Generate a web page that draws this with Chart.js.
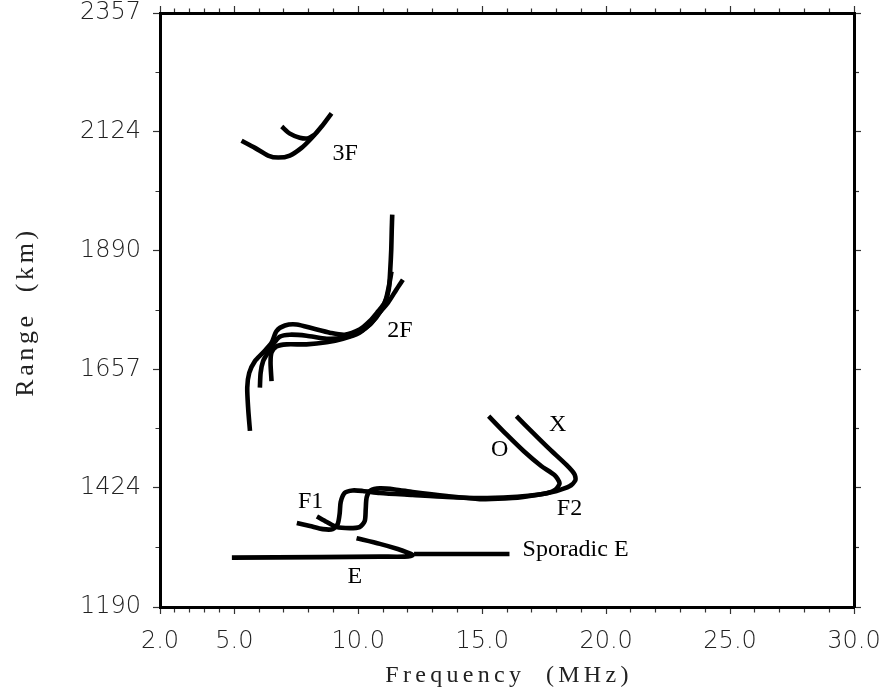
<!DOCTYPE html>
<html>
<head>
<meta charset="utf-8">
<script src="https://cdn.jsdelivr.net/npm/chart.js@4.4.1/dist/chart.umd.min.js"></script>
<style>
  html, body { margin: 0; padding: 0; background: #fff; }
  #wrap { width: 884px; height: 693px; }
</style>
</head>
<body>
<div id="wrap"><canvas id="ionogram"></canvas></div>
<script>
// --- axes ---
const freqTicks = [2, 5, 10, 15, 20, 25, 30];
const freqMinorTicks = [2.6, 3.2, 3.8, 4.4, 6, 7, 8, 9, 11, 12, 13, 14, 16, 17, 18, 19,
                        21, 22, 23, 24, 26, 27, 28, 29];
const rangeTicks = [1190, 1424, 1657, 1890, 2124, 2357];
const rangeMinorTicks = [1307, 1540.5, 1773.5, 2007, 2240.5];
const xTitle = 'Frequency  (MHz)';
const yTitle = 'Range  (km)';

// --- traces (frequency MHz / range km) ---
const eFreq  = [9.93, 10.87, 11.59, 11.99, 12.19, 11.87, 10.87, 8.45, 4.90];
const eRange = [1325, 1314, 1304, 1297, 1292, 1289, 1289, 1288, 1287];

const esFreq  = [12.25, 16.10];
const esRange = [1294, 1294];

const oFreq  = [7.52, 8.05, 8.57, 8.97, 9.17, 9.25, 9.29, 9.45, 9.77, 10.18, 10.87, 12.19,
                13.57, 14.90, 16.22, 17.12, 17.64, 17.96, 18.12, 17.92, 17.38, 16.68, 15.98, 15.26];
const oRange = [1355, 1349, 1343, 1343, 1353, 1374, 1396, 1414, 1419, 1418, 1414, 1410,
                1406, 1404, 1406, 1410, 1414, 1421, 1433, 1449, 1467, 1496, 1529, 1565];

const xFreq  = [8.33, 8.73, 9.13, 9.65, 10.05, 10.26, 10.30, 10.34, 10.50, 10.87, 11.47, 12.19,
                13.57, 14.90, 16.22, 17.20, 18.00, 18.52, 18.76, 18.72, 18.40, 17.72, 17.03, 16.38];
const xRange = [1368, 1357, 1347, 1345, 1347, 1359, 1382, 1406, 1419, 1423, 1421, 1416,
                1408, 1402, 1404, 1410, 1418, 1427, 1439, 1451, 1469, 1500, 1533, 1565];

const f2aFreq  = [5.63, 5.56, 5.52, 5.60, 5.83, 6.16, 6.50, 6.70, 7.04, 7.51, 8.18, 8.85,
                  9.45, 10.05, 10.47, 10.80, 11.07, 11.23, 11.29, 11.33, 11.35, 11.37];
const f2aRange = [1536, 1578, 1621, 1650, 1673, 1690, 1709, 1732, 1743, 1745, 1737, 1729,
                  1725, 1735, 1752, 1771, 1788, 1814, 1853, 1892, 1931, 1961];

const f2bFreq  = [6.03, 6.06, 6.16, 6.36, 6.56, 6.83, 7.24, 7.91, 8.72, 9.38, 9.92, 10.47,
                  10.80, 11.20, 11.54, 11.80];
const f2bRange = [1621, 1650, 1673, 1690, 1706, 1721, 1725, 1723, 1717, 1719, 1727, 1745,
                  1765, 1788, 1814, 1833];

const f2cFreq  = [6.50, 6.46, 6.50, 6.70, 7.11, 7.91, 8.72, 9.38, 10.05, 10.55, 10.91, 11.11,
                  11.25, 11.34];
const f2cRange = [1634, 1670, 1690, 1702, 1706, 1706, 1710, 1717, 1729, 1749, 1772, 1794,
                  1824, 1849];

const f3aFreq  = [5.29, 5.83, 6.36, 6.77, 7.24, 7.71, 8.11, 8.52, 8.92];
const f3aRange = [2106, 2092, 2077, 2073, 2077, 2092, 2111, 2134, 2160];

const f3bFreq  = [6.91, 7.24, 7.64, 7.99, 8.24];
const f3bRange = [2134, 2120, 2112, 2111, 2118];

// --- trace labels ---
const labelText  = ['3F', '2F', 'O', 'X', 'F1', 'F2', 'Sporadic E', 'E'];
const labelFreq  = [9.47, 11.68, 15.70, 18.04, 8.08, 18.52, 16.63, 9.86];
const labelRange = [2080, 1732, 1500, 1548, 1396, 1384, 1302, 1249];
const labelAlign = ['center', 'center', 'center', 'center', 'center', 'center', 'left', 'center'];

const traces = [
  [eFreq, eRange], [esFreq, esRange], [oFreq, oRange], [xFreq, xRange],
  [f2aFreq, f2aRange], [f2bFreq, f2bRange], [f2cFreq, f2cRange],
  [f3aFreq, f3aRange], [f3bFreq, f3bRange]
];

const allFreq = freqTicks.concat(freqMinorTicks).sort((a, b) => a - b);
const allRange = rangeTicks.concat(rangeMinorTicks).sort((a, b) => a - b);

const tickFont = { family: "'DejaVu Sans'", size: 24, weight: '200' };
const serif = '"Liberation Serif", "Times New Roman", serif';

// ticks: long ones on the labelled values, short ones in between (dash trims the line)
function axis(position, ticksList, majors, size, showLabels, minorDash) {
  const horiz = position === 'top' || position === 'bottom';
  return {
    type: 'linear',
    position: position,
    min: horiz ? 2 : 1190,
    max: horiz ? 30 : 2357,
    afterBuildTicks: s => { s.ticks = ticksList.map(v => ({ value: v })); },
    afterFit: s => {
      if (horiz) s.height = size; else s.width = size;
      // the frame is fixed, labels may overhang the corners
      s.paddingLeft = s.paddingRight = s.paddingTop = s.paddingBottom = 0;
    },
    ticks: {
      display: showLabels,
      autoSkip: false,
      maxRotation: 0,
      padding: horiz ? 13 : 12,
      color: '#222',
      font: tickFont,
      callback: v => majors.includes(v) ? (horiz ? v.toFixed(1) : String(v)) : ''
    },
    grid: {
      drawOnChartArea: false,
      drawTicks: true,
      tickLength: 7,
      tickWidth: 1.2,
      tickColor: '#333',
      tickBorderDash: c => (c.tick && majors.includes(c.tick.value)) ? [] : minorDash
    },
    border: { display: true, color: '#000', width: 3 }
  };
}

const labelPlugin = {
  id: 'traceLabels',
  afterDatasetsDraw(chart) {
    const { ctx, scales: { x, y } } = chart;
    ctx.save();
    ctx.font = '24px ' + serif;
    ctx.fillStyle = '#000';
    ctx.textBaseline = 'middle';
    labelText.forEach((t, i) => {
      ctx.textAlign = labelAlign[i];
      ctx.fillText(t, x.getPixelForValue(labelFreq[i]), y.getPixelForValue(labelRange[i]));
    });
    ctx.restore();
  },
  afterDraw(chart) {
    const { ctx, chartArea, scales: { x } } = chart;
    ctx.save();
    ctx.fillStyle = '#222';
    ctx.textAlign = 'center';
    ctx.textBaseline = 'middle';
    ctx.font = '24px ' + serif;
    ctx.letterSpacing = '4.3px';
    ctx.fillText(xTitle, (chartArea.left + chartArea.right) / 2 + 2, x.bottom - 17);
    ctx.font = '26px ' + serif;
    ctx.letterSpacing = '3.6px';
    ctx.translate(26, (chartArea.top + chartArea.bottom) / 2 + 4);
    ctx.rotate(-Math.PI / 2);
    ctx.fillText(yTitle, 2, 0);
    ctx.restore();
  }
};

new Chart(document.getElementById('ionogram'), {
  type: 'scatter',
  data: {
    datasets: traces.map(([fr, rg]) => ({
      data: fr.map((f, i) => ({ x: f, y: rg[i] })),
      showLine: true,
      borderColor: '#000',
      borderWidth: 4.6,
      pointRadius: 0,
      tension: 0.25,
      fill: false,
      borderCapStyle: 'butt',
      borderJoinStyle: 'round'
    }))
  },
  options: {
    responsive: true,
    maintainAspectRatio: false,
    animation: false,
    layout: { padding: 0 },
    plugins: { legend: { display: false }, tooltip: { enabled: false } },
    scales: {
      x:      axis('bottom', allFreq, freqTicks, 86, true, [3.5, 100]),
      xTop:   axis('top', allFreq, freqTicks, 13, false, [0, 2.5, 100]),
      y:      axis('left', allRange, rangeTicks, 160, true, [0, 2.5, 100]),
      yRight: axis('right', allRange, rangeTicks, 30, false, [3, 100])
    }
  },
  plugins: [labelPlugin]
});
</script>
</body>
</html>
